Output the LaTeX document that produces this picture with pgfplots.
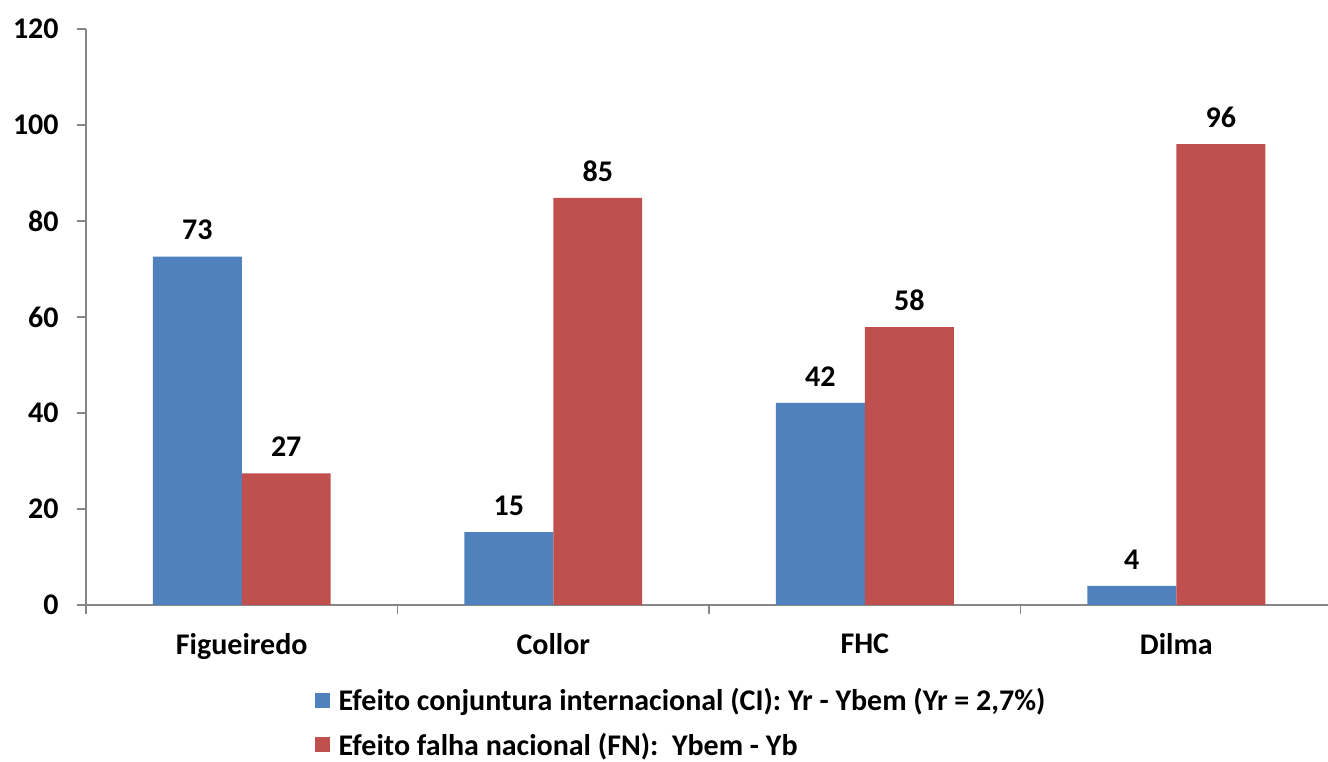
\documentclass[border=0pt]{standalone}
\usepackage{pgfplots}
\pgfplotsset{compat=1.18}
\usepackage{fontspec}
\setmainfont{Carlito}
\definecolor{cblue}{HTML}{4F81BD}
\definecolor{cred}{HTML}{C0504D}
\definecolor{axgray}{HTML}{868686}
\newcommand{\cf}{\fontsize{22.5}{26}\selectfont\bfseries}
\begin{document}
\begin{tikzpicture}[font=\cf]
\path[use as bounding box] (0,0) rectangle (996pt,571.5pt);
\begin{axis}[
  at={(64.5pt,117.75pt)}, anchor=south west,
  scale only axis, width=931.5pt, height=432pt,
  ymin=0, ymax=120, ytick={0,20,...,120},
  xmin=-0.5, xmax=3.487,
  ybar=0pt, bar width=0.2856,
  axis x line*=bottom, axis y line*=left,
  axis line style={axgray, line width=1pt},
  tick style={axgray, line width=1pt},
  tick align=outside, major tick length=7pt,
  xtick={-0.5,0.5,1.5,2.5}, xticklabels={},
  extra x ticks={0,1,2,3},
  extra x tick labels={Figueiredo,Collor,FHC,Dilma},
  extra x tick style={major tick length=0pt, xticklabel style={yshift=-18pt}},
  /pgf/number format/assume math mode=true,
  ticklabel style={font=\cf},
  yticklabel style={xshift=-10pt},
  nodes near coords={\pgfmathprintnumber[fixed,precision=0]{\pgfplotspointmeta}},
  every node near coord/.append style={black, font=\cf, yshift=9pt},
  legend style={draw=none, fill=none, at={(0.1844,-0.14)}, anchor=north west,
    legend cell align=left, row sep=11pt, inner sep=0pt,
    font=\cf},
  legend image code/.code={\fill[#1] (0pt,-5.6pt) rectangle (11.2pt,5.6pt); \path (15.5pt,0pt);},
  clip=false,
]
\addplot[fill=cblue, draw=none] coordinates {(0,72.6) (1,15.2) (2,42.1) (3,4.0)};
\addplot[fill=cred, draw=none] coordinates {(0,27.4) (1,84.8) (2,57.9) (3,96.0)};
\legend{{Efeito conjuntura internacional (CI): Yr - Ybem (Yr = 2,7\%)},{Efeito falha nacional (FN):\ \ Ybem - Yb}}
\end{axis}
\end{tikzpicture}
\end{document}
